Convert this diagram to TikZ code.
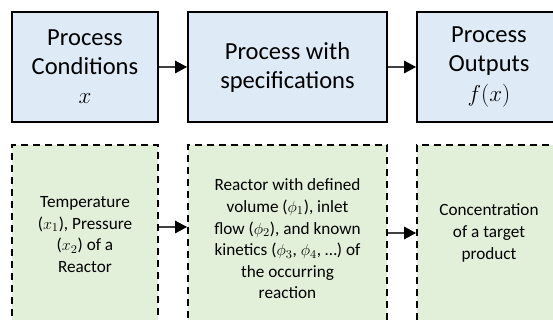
\documentclass[tikz,border=0pt]{standalone}
\usepackage{fontspec}
\setmainfont{Carlito}
\usetikzlibrary{arrows.meta}
\definecolor{topfill}{HTML}{DEEBF7}
\definecolor{botfill}{HTML}{E2F0D9}
\definecolor{arrowgray}{HTML}{404040}
\tikzset{
  topbox/.style={draw=black, line width=1.5pt, fill=topfill, rectangle,
    minimum height=82.5pt, inner sep=0pt, align=center,
    font=\fontsize{18.4pt}{21.8pt}\selectfont},
  botbox/.style={draw=black, line width=1.5pt, fill=botfill, rectangle,
    dash pattern=on 5.5pt off 3.5pt, minimum height=135pt, inner sep=0pt},
  bottext/.style={align=center, inner sep=0pt,
    font=\fontsize{12.9pt}{16.2pt}\selectfont},
  arr/.style={draw=arrowgray, line width=0.8pt,
    -{Triangle[length=9pt,width=9.5pt,fill=black,color=black]}}
}
\begin{document}
\begin{tikzpicture}[x=0.75pt, y=-0.75pt]
\useasboundingbox (0,0) rectangle (553,320);
\begin{scope}
\clip (0,0) rectangle (553,320);
% upper row: abstract process view
\node[topbox, minimum width=109.5pt] (pc) at (85,67) {Process\\Conditions\\$x$};
\node[topbox, minimum width=149.25pt] (ps) at (287.5,67) {Process with\\specifications};
\node[topbox, minimum width=108pt] (po) at (489,67) {Process\\Outputs\\$f(x)$};
\draw[arr] (pc.east) -- (ps.west);
\draw[arr] (ps.east) -- (po.west);
% lower row: reactor example
\node[botbox, minimum width=109.5pt] (rc) at (85,235) {};
\node[botbox, minimum width=149.25pt] (rs) at (287.5,235) {};
\node[botbox, minimum width=108pt] (ro) at (489,235) {};
\node[bottext] (rct) at (85,234.5) {Temperature\\($x_1$), Pressure\\($x_2$) of a\\Reactor};
\node[bottext] (rst) at (287.5,239) {Reactor with defined\\volume ($\phi_1$), inlet\\flow ($\phi_2$), and known\\kinetics ($\phi_3$, $\phi_4$, …) of\\the occurring\\reaction};
\node[bottext] (rot) at (489,233) {Concentration\\of a target\\product};
\draw[arr] ([yshift=6pt]rc.east) -- ([yshift=6pt]rs.west);
\draw[arr] ([yshift=1.5pt]rs.east) -- ([yshift=1.5pt]ro.west);
\end{scope}
\end{tikzpicture}
\end{document}
